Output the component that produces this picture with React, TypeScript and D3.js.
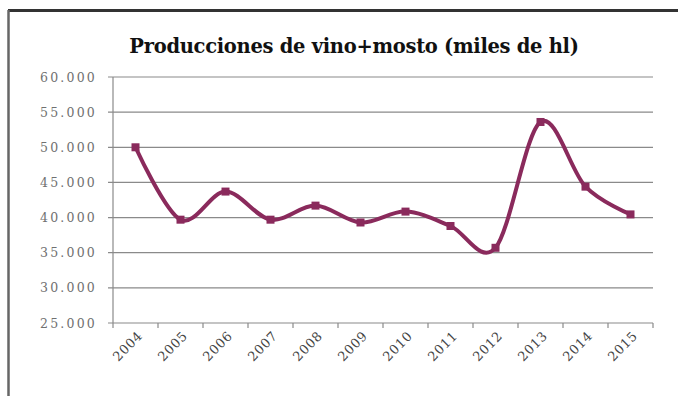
import React from "react";
import * as d3 from "d3";

const years = ["2004","2005","2006","2007","2008","2009","2010","2011","2012","2013","2014","2015"];
const values = [50000, 39700, 43700, 39700, 41700, 39300, 40850, 38800, 35700, 53600, 44400, 40450];
const yTicks = [25000, 30000, 35000, 40000, 45000, 50000, 55000, 60000];
const title = "Producciones de vino+mosto (miles de hl)";

const W = 678, H = 396;
const L = 113, R = 653, T = 77, B = 323;

export default function App() {
  const x = d3.scaleBand<string>().domain(years).range([L, R]).padding(0);
  const y = d3.scaleLinear().domain([25000, 60000]).range([B, T]);
  const fmt = (v: number) => d3.format(",")(v).replace(/,/g, ".");
  const line = d3.line<number>()
    .x((_, i) => (x(years[i]) as number) + x.bandwidth() / 2)
    .y((d) => y(d))
    .curve(d3.curveCardinal.tension(0));
  const color = "#8a2a5c";
  const serif = "'DejaVu Serif', 'Liberation Serif', serif";
  const boundaries = d3.range(years.length + 1).map((i) => L + i * x.bandwidth());
  return (
    <svg width={W} height={H} style={{ position: "absolute", left: 0, top: 0, background: "#fff" }}>
      <rect x={0} y={0} width={W} height={H} fill="#fff" />
      <line x1={8} x2={W} y1={10.5} y2={10.5} stroke="#333" strokeWidth={3} />
      <line x1={8.5} x2={8.5} y1={10} y2={H} stroke="#666" strokeWidth={2.5} />
      <text x={354} y={53} textAnchor="middle" fontFamily="'DejaVu Serif', serif" fontWeight="bold" fontSize={19.5} letterSpacing={-0.3} fill="#111">{title}</text>
      {yTicks.map((t) => (
        <g key={t}>
          <line x1={L - 5} x2={R} y1={y(t)} y2={y(t)} stroke="#8a8a8a" strokeWidth={1.2} />
          <text x={97} y={y(t) + 4.5} textAnchor="end" fontFamily={serif} fontSize={12.5} letterSpacing={2.2} fill="#707070">{fmt(t)}</text>
        </g>
      ))}
      <line x1={L} x2={L} y1={T} y2={B} stroke="#8a8a8a" strokeWidth={1.2} />
      {boundaries.map((b, i) => (
        <line key={i} x1={b} x2={b} y1={B} y2={B + 5} stroke="#8a8a8a" strokeWidth={1.2} />
      ))}
      {years.map((yr) => {
        const cx = (x(yr) as number) + x.bandwidth() / 2 + 1;
        const cy = B + 7;
        return (
          <text key={yr} x={cx} y={cy} transform={`rotate(-45 ${cx} ${cy})`} textAnchor="end" dominantBaseline="hanging" fontFamily={serif} fontSize={13} letterSpacing={0.6} fill="#444">{yr}</text>
        );
      })}
      <path d={line(values) || ""} fill="none" stroke={color} strokeWidth={4} strokeLinejoin="round" />
      {values.map((v, i) => {
        const cx = (x(years[i]) as number) + x.bandwidth() / 2;
        return <rect key={i} x={cx - 4} y={y(v) - 4} width={8} height={8} fill={color} />;
      })}
    </svg>
  );
}
